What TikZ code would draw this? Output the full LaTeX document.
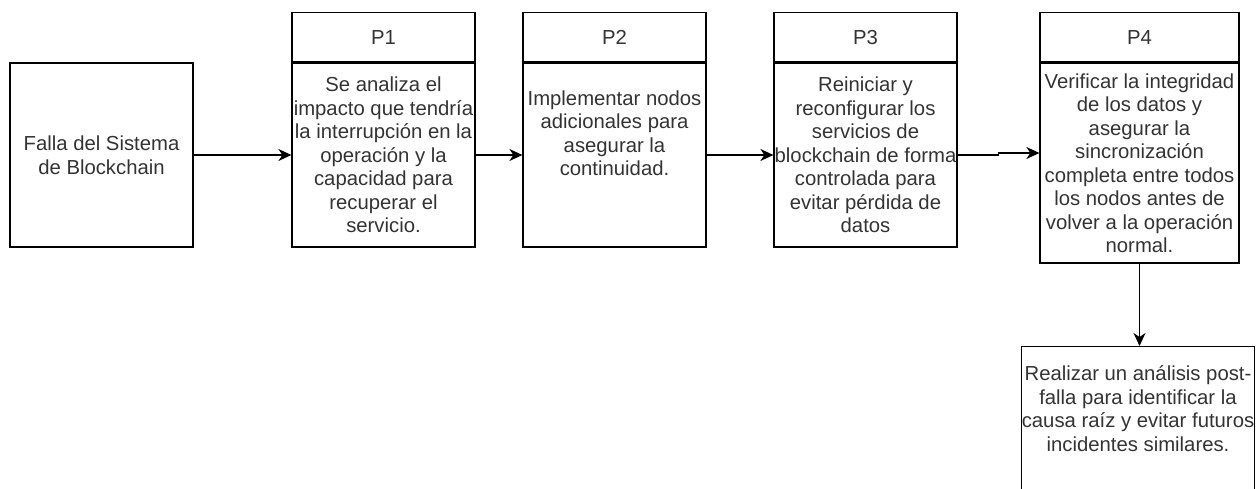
\documentclass[tikz,border=0pt]{standalone}
\usepackage{fontspec}
\setmainfont{Liberation Sans}
\usetikzlibrary{arrows.meta}

\begin{document}
\begin{tikzpicture}[x=1pt,y=-1pt]
    \tikzstyle{box}=[rectangle,draw,line width=1.2pt,inner sep=0pt,align=center,text=black!80,font=\fontsize{20.3}{23.5}\selectfont]
    \tikzstyle{head}=[box,minimum width=183pt,minimum height=49pt,anchor=south]
    \tikzstyle{body}=[box,minimum width=183pt,minimum height=184pt]
    \tikzstyle{flow}=[line width=1.2pt,-{Stealth[length=13pt,width=12pt,inset=4pt]}]
    \useasboundingbox (0,0) rectangle (1256,489);
    % start
    \node (falla) at (101.5,155) [body] {Falla del Sistema\\de Blockchain};
    % P1
    \node (p1) at (383.5,155) [body] {Se analiza el\\impacto que tendría\\la interrupción en la\\operación  y la\\capacidad para\\recuperar el\\servicio.};
    \node (p1head) at (p1.north) [head] {P1};
    % P2
    \node (p2) at (614.5,155) [body,text depth=44pt] {Implementar nodos\\adicionales para\\asegurar la\\continuidad.};
    \node (p2head) at (p2.north) [head] {P2};
    % P3
    \node (p3) at (865.5,155) [body] {Reiniciar y\\reconfigurar los\\servicios de\\blockchain de forma\\controlada para\\evitar pérdida de\\datos};
    \node (p3head) at (p3.north) [head] {P3};
    % P4
    \node (p4) at (1139.5,163) [body,minimum width=199pt,minimum height=200pt] {Verificar la integridad\\de los datos y\\asegurar la\\sincronización\\completa entre todos\\los nodos antes de\\volver a la operación\\normal.};
    \node (p4head) at (p4.north) [head,minimum width=199pt] {P4};
    % post-falla
    \node (analisis) at (1138,346) [box,anchor=north,minimum width=230pt,minimum height=170pt,text depth=46pt] {Realizar un análisis post-\\falla para identificar la\\causa raíz y evitar futuros\\incidentes similares.};
    \draw [flow] (falla.east) -- (p1.west);
    \draw [flow] (p1.east)    -- (p2.west);
    \draw [flow] (p2.east)    -- (p3.west);
    \draw [flow] (p3.east)    -- ++(41,0) |- ([yshift=10pt]p4.west);
    \draw [flow] (p4.south)   -- (p4.south |- analisis.north);
\end{tikzpicture}
\end{document}
